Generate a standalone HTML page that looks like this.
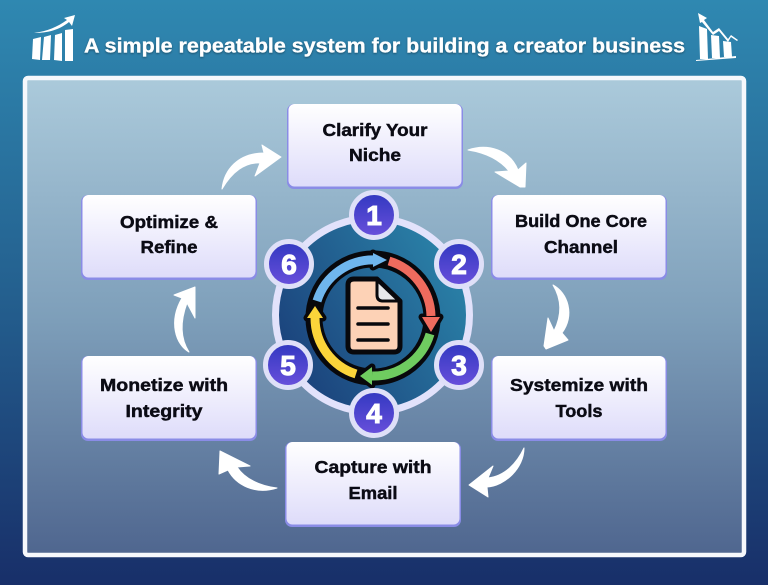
<!DOCTYPE html>
<html><head><meta charset="utf-8"><style>
html,body{margin:0;padding:0;width:768px;height:585px;overflow:hidden;background:#1a3268}
svg{display:block}
text{font-family:"Liberation Sans",sans-serif;font-weight:bold}
</style></head><body>
<svg width="768" height="585" viewBox="0 0 768 585" xmlns="http://www.w3.org/2000/svg">
<defs>
<linearGradient id="bg" x1="0" y1="0" x2="0" y2="1"><stop offset="0" stop-color="#2f88b1"/><stop offset=".5" stop-color="#24608f"/><stop offset="1" stop-color="#182f69"/></linearGradient>
<linearGradient id="pn" x1="0" y1="0" x2="0" y2="1"><stop offset="0" stop-color="#abcadb"/><stop offset=".5" stop-color="#7e9fba"/><stop offset="1" stop-color="#4f668f"/></linearGradient>
<linearGradient id="bx" x1="0" y1="0" x2="0" y2="1"><stop offset="0" stop-color="#ffffff"/><stop offset="1" stop-color="#dedcfa"/></linearGradient>
<linearGradient id="bd" x1="0" y1="0" x2="0" y2="1"><stop offset="0" stop-color="#3138c0"/><stop offset="1" stop-color="#6a50dc"/></linearGradient>
<linearGradient id="ctr" x1="1" y1="0.2" x2="0" y2="0.8"><stop offset="0" stop-color="#2b86ab"/><stop offset="1" stop-color="#1a3d78"/></linearGradient>
<filter id="ts" x="-5%" y="-20%" width="110%" height="150%"><feDropShadow dx="0" dy="1" stdDeviation="1" flood-color="#000" flood-opacity=".4"/></filter>
<g id="box"><rect x="0" y="0" width="176" height="85" rx="7" fill="#8a8ce6"/><rect x="1.5" y="0" width="173" height="82.5" rx="6" fill="url(#bx)"/></g>
</defs>
<rect width="768" height="585" fill="url(#bg)"/>
<rect x="25" y="78" width="719" height="477" rx="3" fill="url(#pn)" stroke="#f6f8fc" stroke-width="4.5"/>

<!-- left title icon -->
<g fill="#fff">
<polygon points="33,39 41,37 40,60 32,59"/><polygon points="44,37 51,35 50,60 42,60"/><polygon points="55,35 62,33 62,61 54,60"/><polygon points="65,30 73,29 73,61 65,61"/>
<path d="M34,33 C48,31 57,27 67,20 L64,18 L75,15 L72,26 L69,22 C59,30 48,33 34,33Z"/>
</g>
<!-- right title icon -->
<g fill="#fff">
<polygon points="699,26 707,29 708,59 700,59"/><polygon points="711,35 719,36 720,58 712,58"/><polygon points="723,41 731,42 732,57 724,57"/>
<polygon points="696,60 736,56 736,58 696,61"/>
<polygon points="698,13 707,18 704,20 713,32 719,28 728,39 731,35 738,40 737,41 731,37 728,42 719,31 713,35 702,22 700,23"/>
</g>
<text x="84" y="52.5" font-size="20.5" fill="#fff" stroke="#fff" stroke-width=".3" textLength="601" lengthAdjust="spacingAndGlyphs" filter="url(#ts)">A simple repeatable system for building a creator business</text>

<!-- connector arrows -->
<g fill="#fff" stroke="#fff" stroke-width="1" stroke-linejoin="round">
<path d="M222,189 C224,170 238,153 264,153 L262,145 L281,157 L255,176 L260,163 C245,162 232,172 222,189Z"/>
<path d="M468,150 C488,143 510,150 518,170 L526,163 L525,187 L520,187 L495,172 L509,171 C500,160 487,153 468,150Z"/>
<path d="M553,285 C568,293 575,315 562,333 L568,340 L546,349 L544,346 L548,318 L554,331 C562,315 562,300 553,285Z"/>
<path d="M524,448 C524,468 505,486 487,487 L488,497 L469,485 L493,466 L488,478 C505,476 517,463 524,448Z"/>
<path d="M277,488 C255,495 236,485 228,470 L219,474 L220,451 L250,466 L237,467 C245,479 260,486 277,488Z"/>
<path d="M189,352 C176,345 168,322 182,298 L174,295 L195,287 L195,318 L187,303 C180,322 180,338 189,352Z"/>
</g>

<!-- boxes -->
<use href="#box" x="287" y="104"/>
<use href="#box" x="491" y="195"/>
<use href="#box" x="491" y="356"/>
<use href="#box" x="285" y="442"/>
<use href="#box" x="81" y="356"/>
<use href="#box" x="81" y="195"/>
<g font-size="17.5" fill="#0b0b14" stroke="#0b0b14" stroke-width=".45" text-anchor="middle">
<text x="375" y="136" textLength="105" lengthAdjust="spacingAndGlyphs">Clarify Your</text>
<text x="375" y="161" textLength="52" lengthAdjust="spacingAndGlyphs">Niche</text>
<text x="581" y="227" textLength="132" lengthAdjust="spacingAndGlyphs">Build One Core</text>
<text x="581" y="253" textLength="74" lengthAdjust="spacingAndGlyphs">Channel</text>
<text x="579" y="391" textLength="138" lengthAdjust="spacingAndGlyphs">Systemize with</text>
<text x="579" y="417" textLength="47" lengthAdjust="spacingAndGlyphs">Tools</text>
<text x="373" y="473" textLength="117" lengthAdjust="spacingAndGlyphs">Capture with</text>
<text x="373" y="499" textLength="49" lengthAdjust="spacingAndGlyphs">Email</text>
<text x="164" y="391" textLength="128" lengthAdjust="spacingAndGlyphs">Monetize with</text>
<text x="164" y="417" textLength="77" lengthAdjust="spacingAndGlyphs">Integrity</text>
<text x="169" y="228" textLength="98" lengthAdjust="spacingAndGlyphs">Optimize &amp;</text>
<text x="169" y="253" textLength="57" lengthAdjust="spacingAndGlyphs">Refine</text>
</g>

<!-- hub -->
<circle cx="372.5" cy="315" r="97" fill="url(#ctr)" stroke="#e2e2fb" stroke-width="7"/>

<!-- cycle ring: black underlay -->
<circle cx="373" cy="318" r="59" fill="none" stroke="#08080c" stroke-width="17"/>
<g fill="#08080c" stroke="#08080c" stroke-width="7" stroke-linejoin="round">
<polygon points="373,253 387,260 373,267"/>
<polygon points="422,317 440,317 431,332"/>
<polygon points="372,367 360,376 372,385"/>
<polygon points="315,306 307,318 323,318"/>
</g>
<g fill="none" stroke-width="9">
<path d="M389,261 A59,59 0 0 1 431,316" stroke="#ef6b5e"/>
<path d="M430,334 A59,59 0 0 1 372,376" stroke="#6fcc60"/>
<path d="M356,374 A59,59 0 0 1 315,318" stroke="#fbd43a"/>
<path d="M317,301 A59,59 0 0 1 376,260" stroke="#6fb6ee"/>
</g>
<polygon points="373,253 387,260 373,267" fill="#6fb6ee"/>
<polygon points="422,317 440,317 431,332" fill="#ef6b5e"/>
<polygon points="372,367 360,376 372,385" fill="#6fcc60"/>
<polygon points="315,306 307,318 323,318" fill="#fbd43a"/>

<!-- document -->
<path d="M354,279 H377 L400,301 V346 Q400,352 394,352 H354 Q348,352 348,346 V285 Q348,279 354,279Z" fill="#fdd2b6" stroke="#08080c" stroke-width="5" stroke-linejoin="round"/>
<path d="M377,280 L399,301 H383 Q377,301 377,295Z" fill="#e8e8ea" stroke="#08080c" stroke-width="3" stroke-linejoin="round"/>
<g stroke="#08080c" stroke-width="3.5" stroke-linecap="round"><line x1="358" y1="308" x2="388" y2="308"/><line x1="358" y1="324" x2="388" y2="324"/><line x1="358" y1="340" x2="388" y2="340"/></g>

<!-- badges -->
<g stroke="#dfe0f8" stroke-width="5" fill="url(#bd)">
<circle cx="374" cy="215" r="22.5"/><circle cx="459" cy="264" r="22.5"/><circle cx="459" cy="365" r="22.5"/><circle cx="374" cy="413" r="22.5"/><circle cx="288" cy="365" r="22.5"/><circle cx="289" cy="264" r="22.5"/>
</g>
<g font-size="28" fill="#fff" text-anchor="middle" stroke="#fff" stroke-width="1.1">
<text x="374" y="225">1</text><text x="459" y="274">2</text><text x="459" y="375">3</text><text x="374" y="423">4</text><text x="288" y="375">5</text><text x="289" y="274">6</text>
</g>
</svg>
</body></html>
